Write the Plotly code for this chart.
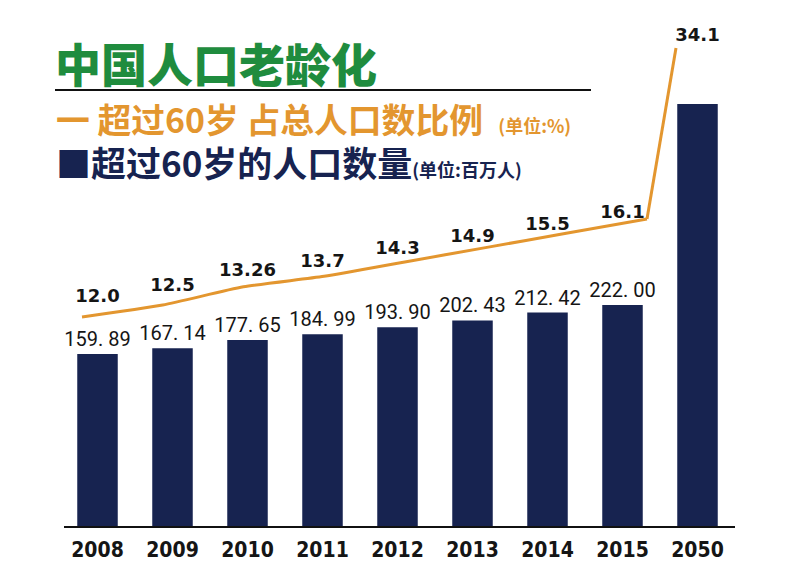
import plotly.graph_objects as go

# data
YEARS = ['2008', '2009', '2010', '2011', '2012', '2013', '2014', '2015', '2050']
# people over 60, millions (2050 has no label)
POP_60 = [159.89, 167.14, 177.65, 184.99, 193.90, 202.43, 212.42, 222.00, 477]
# share of total population over 60, %
SHARE_60 = [12.0, 12.5, 13.26, 13.7, 14.3, 14.9, 15.5, 16.1, 34.1]

BAR_BASE = -58.1  # bars in the picture do not start from zero

NAVY = '#172350'
ORANGE = '#e3962f'
GREEN = '#1f8c3e'
W, H = 800, 572

bar_text = [f"{v:.2f}".replace('.', '. ') for v in POP_60[:-1]] + ['']
share_text = [str(v) for v in SHARE_60]

fig = go.Figure()

fig.add_trace(go.Bar(
    x=YEARS, y=[v - BAR_BASE for v in POP_60], base=BAR_BASE,
    width=0.54, marker_color=NAVY, marker_line_width=0,
    text=bar_text, textposition='outside', cliponaxis=False, constraintext='none',
    textfont=dict(family='Roboto', size=20, color='#151515'),
    hoverinfo='skip',
))

# line 2008-2015
fig.add_trace(go.Scatter(
    x=YEARS[:8], y=SHARE_60[:8], xaxis='x2', yaxis='y2',
    mode='lines', line=dict(color=ORANGE, width=3, shape='spline', smoothing=0.6),
    hoverinfo='skip',
))
# jump to 2050 (broken scale in the picture)
fig.add_trace(go.Scatter(
    x=YEARS[7:], y=SHARE_60[7:], xaxis='x3', yaxis='y3',
    mode='lines', line=dict(color=ORANGE, width=3),
    hoverinfo='skip',
))

# percent labels, centred over the bars
pct_font = dict(family='DejaVu Sans', size=18, color='#151515', weight='bold')
fig.add_trace(go.Scatter(
    x=YEARS[:8], y=SHARE_60[:8], xaxis='x', yaxis='y4',
    mode='text', text=share_text[:8], textposition='middle center',
    textfont=pct_font, cliponaxis=False, hoverinfo='skip',
))
fig.add_trace(go.Scatter(
    x=YEARS[8:], y=SHARE_60[8:], xaxis='x', yaxis='y3',
    mode='markers+text', text=share_text[8:], textposition='top center',
    marker=dict(size=3, opacity=0), textfont=pct_font, cliponaxis=False,
    hoverinfo='skip',
))


def px(x, y):
    return x / W, 1 - y / H


annos = []
ax, ay = px(53, 62)
annos.append(dict(x=ax, y=ay, xref='paper', yref='paper', xanchor='left', yanchor='middle',
                  text='中国人口老龄化', showarrow=False,
                  font=dict(family='Noto Sans CJK SC', size=46, color=GREEN, weight=900)))

# the two legend lines under the title
line1 = '一 超过60岁 占总人口数比例\u00a0\u00a0<span style="font-size:18px">(单位:%)</span>'
line2 = ('<span style="color:%s;font-size:35px">■超过60岁的人口数量'
         '<span style="font-size:18px">(单位:百万人)</span></span>' % NAVY)
ax, ay = px(54, 140)
annos.append(dict(x=ax, y=ay, xref='paper', yref='paper', xanchor='left', yanchor='middle',
                  align='left', text=line1 + '<br>' + line2, showarrow=False,
                  font=dict(family='Noto Sans CJK SC', size=33.8, color=ORANGE, weight='bold')))

dom_x = [64 / W, 735 / W]
dom_y = [1 - 526 / H, 1]

fig.update_layout(
    width=W, height=H, margin=dict(l=0, r=0, t=0, b=0),
    paper_bgcolor='white', plot_bgcolor='white', showlegend=False,
    annotations=annos,
    shapes=[dict(type='line', xref='paper', yref='paper',
                 x0=55 / W, x1=591 / W, y0=1 - 90 / H, y1=1 - 90 / H,
                 line=dict(color='#111111', width=2))],
    xaxis=dict(type='category', domain=dom_x, range=[-0.4467, 8.5],
               showline=True, linecolor='#111111', linewidth=2, ticks='',
               showgrid=False, ticklabelstandoff=4,
               tickfont=dict(family='DejaVu Sans Condensed', size=21, color='#151515', weight='bold')),
    yaxis=dict(domain=dom_y, range=[BAR_BASE, 608.7], visible=False, showgrid=False, zeroline=False),
    xaxis2=dict(type='category', overlaying='x', range=[-0.223, 8.091], visible=False),
    yaxis2=dict(overlaying='y', range=[3.255, 25.26], visible=False),
    xaxis3=dict(type='category', overlaying='x', range=[-20.103, 3.035], visible=False),
    yaxis3=dict(overlaying='y', range=[-16.2, 39.15], visible=False),
    yaxis4=dict(overlaying='y', range=[0.832, 26.49], visible=False),
)

fig.write_html("out.html", config={'displayModeBar': False},
               post_script="document.body.style.margin='0px';")
